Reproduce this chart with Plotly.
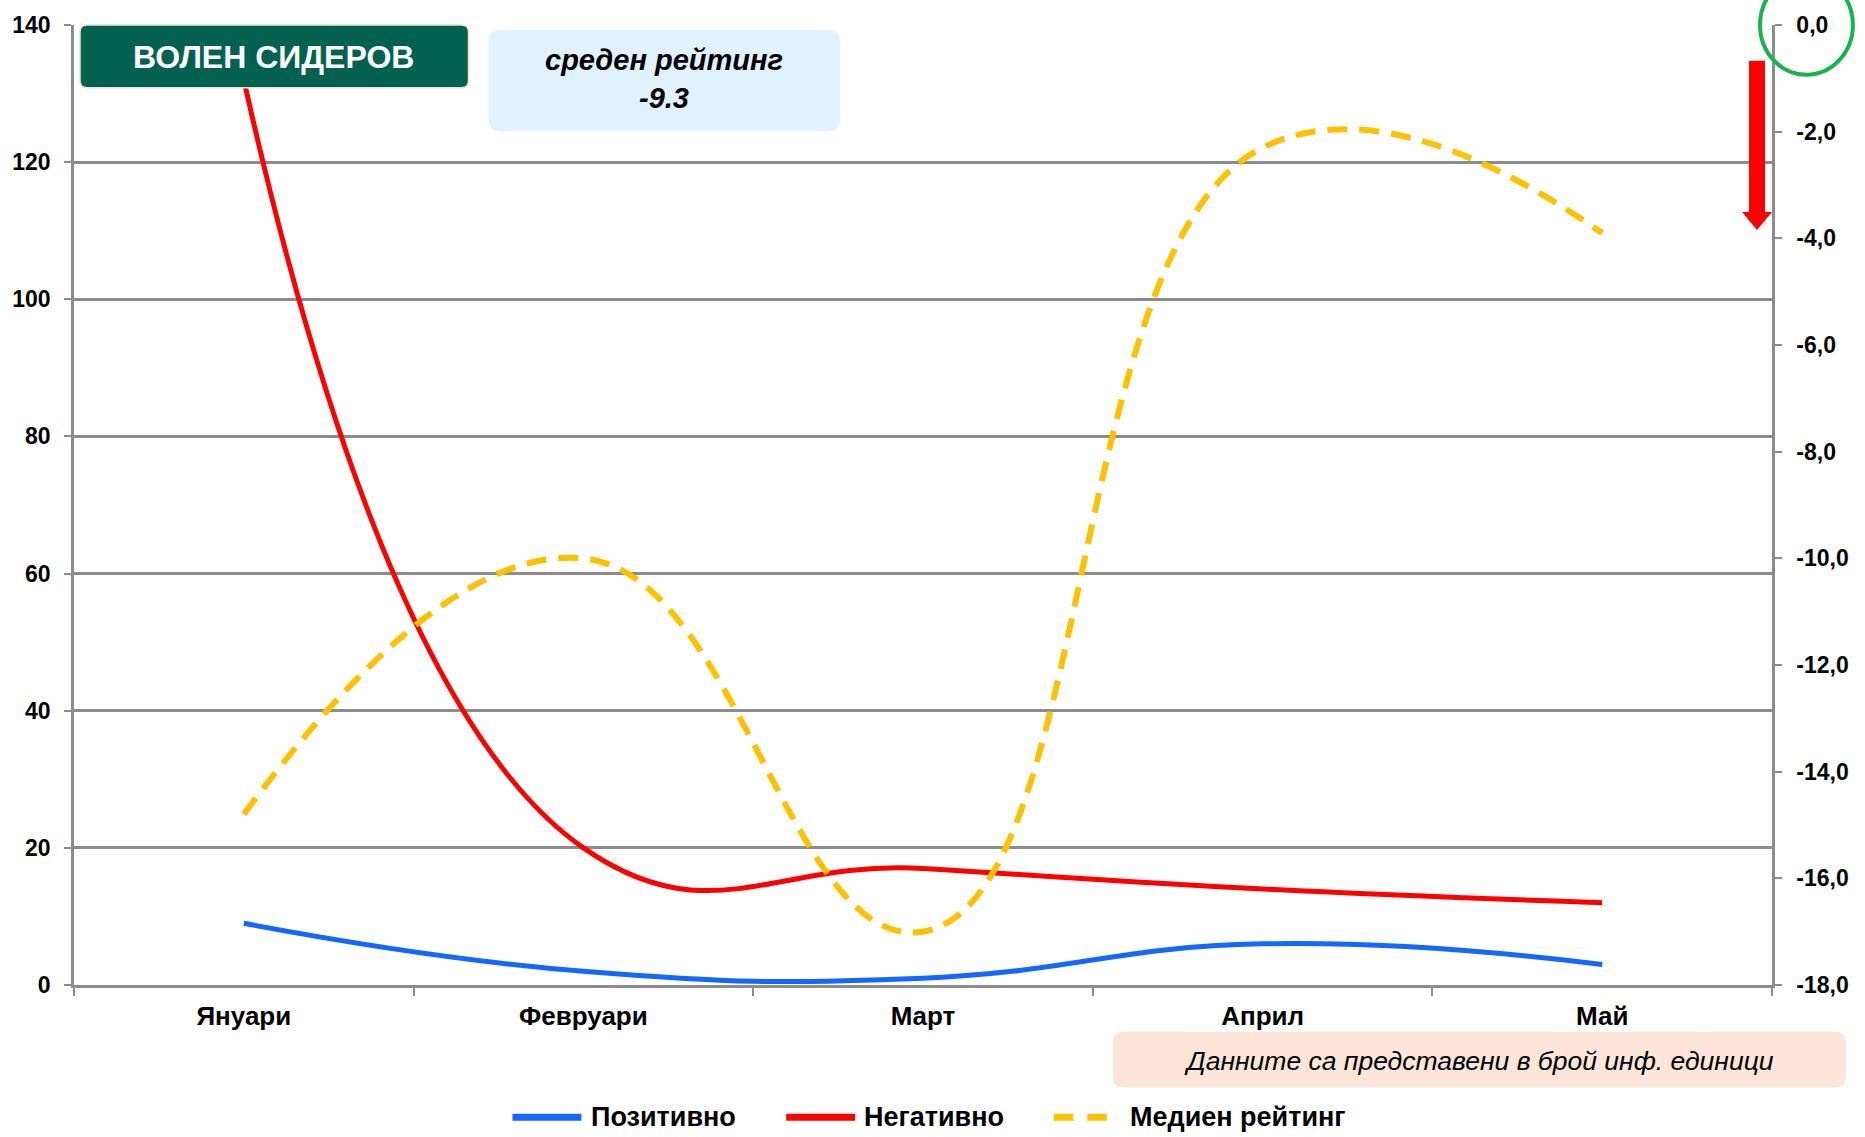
import plotly.graph_objects as go

# ---- data -------------------------------------------------------------
months = ["Януари", "Февруари", "Март", "Април", "Май"]
positive = [9, 2, 1, 6, 3]
negative = [132, 20, 17, 14, 12]
media_rating = [-14.8, -10.0, -17.0, -2.3, -3.9]

series_names = ["Позитивно", "Негативно", "Медиен рейтинг"]
series_colors = ["#1467ff", "#ff0000", "#ffc000"]

left_ticks = [0, 20, 40, 60, 80, 100, 120, 140]
right_ticks = [0, -2, -4, -6, -8, -10, -12, -14, -16, -18]
right_tick_text = ["0,0", "-2,0", "-4,0", "-6,0", "-8,0", "-10,0",
                   "-12,0", "-14,0", "-16,0", "-18,0"]

person = "ВОЛЕН СИДЕРОВ"
avg_label = "среден рейтинг"
avg_value = "-9.3"
note = "Данните са представени в брой инф. единици"

# ---- page geometry (pixels) -------------------------------------------
W, H = 1865, 1137
PL, PR, PT, PB = 72, 1772, 20, 985   # plot area edges
GRID = "#8c8c8c"
FONT = "Arial"
SMOOTH = 1.3


def px(x):
    return (x - PL) / (PR - PL)


def py(y):
    return (PB - y) / (PB - PT)


def rounded_rect(x0, y0, x1, y1, r):
    """SVG path of a rounded rectangle given in page pixels, in paper units."""
    pts = [
        f"M{px(x0 + r)},{py(y0)}",
        f"L{px(x1 - r)},{py(y0)}",
        f"Q{px(x1)},{py(y0)} {px(x1)},{py(y0 + r)}",
        f"L{px(x1)},{py(y1 - r)}",
        f"Q{px(x1)},{py(y1)} {px(x1 - r)},{py(y1)}",
        f"L{px(x0 + r)},{py(y1)}",
        f"Q{px(x0)},{py(y1)} {px(x0)},{py(y1 - r)}",
        f"L{px(x0)},{py(y0 + r)}",
        f"Q{px(x0)},{py(y0)} {px(x0 + r)},{py(y0)}",
        "Z",
    ]
    return " ".join(pts)


fig = go.Figure()

fig.add_trace(go.Scatter(
    x=months, y=positive, name=series_names[0], mode="lines",
    line=dict(color=series_colors[0], width=5, shape="spline", smoothing=SMOOTH),
    showlegend=False,
))
fig.add_trace(go.Scatter(
    x=months, y=negative, name=series_names[1], mode="lines",
    line=dict(color=series_colors[1], width=5, shape="spline", smoothing=SMOOTH),
    showlegend=False,
))
fig.add_trace(go.Scatter(
    x=months, y=media_rating, name=series_names[2], mode="lines", yaxis="y2",
    line=dict(color=series_colors[2], width=6, shape="spline", smoothing=SMOOTH,
              dash="20px,12px"),
    showlegend=False,
))

tick_font = dict(family=FONT, size=23, color="black", weight="bold")

fig.update_layout(
    width=W, height=H, autosize=False,
    margin=dict(l=PL, r=W - PR, t=PT, b=H - PB),
    paper_bgcolor="white", plot_bgcolor="white",
    xaxis=dict(
        type="category", range=[-0.5, 4.5],
        showline=True, linecolor=GRID, linewidth=2.5,
        ticks="outside", tickson="boundaries", ticklen=8,
        tickcolor=GRID, tickwidth=2,
        showgrid=False, zeroline=False,
        tickfont=dict(family=FONT, size=26, color="black", weight="bold"),
        ticklabelstandoff=6,
    ),
    yaxis=dict(
        range=[0, 140], tickvals=left_ticks,
        showline=True, linecolor=GRID, linewidth=2.5,
        ticks="outside", ticklen=7, tickcolor=GRID, tickwidth=2,
        showgrid=True, gridcolor=GRID, gridwidth=2.5,
        zeroline=False, tickfont=tick_font, ticklabelstandoff=9,
    ),
    yaxis2=dict(
        range=[-18, 0], overlaying="y", side="right",
        tickvals=right_ticks, ticktext=right_tick_text,
        showline=True, linecolor=GRID, linewidth=2.5,
        ticks="outside", ticklen=7, tickcolor=GRID, tickwidth=2,
        showgrid=False, zeroline=False, tickfont=tick_font,
        ticklabelstandoff=10,
    ),
)

shapes = []
annotations = []


def label(x, y, text, font, xanchor="center"):
    annotations.append(dict(xref="paper", yref="paper", x=px(x), y=py(y),
                            xanchor=xanchor, yanchor="middle", text=text,
                            showarrow=False, font=font))


# name banner
shapes.append(dict(type="path", xref="paper", yref="paper",
                   path=rounded_rect(78, 20, 467, 83, 7),
                   fillcolor="#03614f", line=dict(color="#e9e4cf", width=1.5),
                   layer="above"))
label(272, 52, person, dict(family=FONT, size=32, color="white", weight="bold"))

# average rating box
shapes.append(dict(type="path", xref="paper", yref="paper",
                   path=rounded_rect(487, 25, 839, 127, 13),
                   fillcolor="#e0f2fd", line=dict(width=0), layer="above"))
label(663, 74, f"<i>{avg_label}<br>{avg_value}</i>",
      dict(family=FONT, size=29, color="black", weight="bold"))

# units note
shapes.append(dict(type="path", xref="paper", yref="paper",
                   path=rounded_rect(1112, 1032, 1846, 1088, 11),
                   fillcolor="#fde5d9", line=dict(width=0), layer="above"))
label(1479, 1061, f"<i>{note}</i>", dict(family=FONT, size=26.5, color="black"))

# downward trend arrow near the right axis
arrow = [(1749, 56), (1765, 56), (1765, 208), (1772, 208), (1757, 226),
         (1742, 208), (1749, 208)]
arrow_path = "M" + " L".join(f"{px(x)},{py(y)}" for x, y in arrow) + " Z"
shapes.append(dict(type="path", xref="paper", yref="paper", path=arrow_path,
                   fillcolor="#ff0000", line=dict(width=0), layer="above"))

# ring around the zero mark of the rating axis
shapes.append(dict(type="circle", xref="paper", yref="paper",
                   x0=px(1760), x1=px(1853), y0=py(-30), y1=py(70),
                   line=dict(color="#14b44e", width=4), layer="above"))

# legend
LY = 1118
legend_items = [
    (511, 580, 588, None),
    (785, 854, 861, None),
    (1053, 1106, 1127, "dash"),
]
for (lx0, lx1, tx, style), name, color in zip(legend_items, series_names, series_colors):
    if style == "dash":
        seg = (lx1 - lx0 - 14) / 2
        for sx in (lx0, lx0 + seg + 14):
            shapes.append(dict(type="line", xref="paper", yref="paper",
                               x0=px(sx), x1=px(sx + seg), y0=py(LY), y1=py(LY),
                               line=dict(color=color, width=7)))
    else:
        shapes.append(dict(type="line", xref="paper", yref="paper",
                           x0=px(lx0), x1=px(lx1), y0=py(LY), y1=py(LY),
                           line=dict(color=color, width=7)))
    label(tx, LY, name, dict(family=FONT, size=27, color="black", weight="bold"),
          xanchor="left")

fig.update_layout(shapes=shapes, annotations=annotations)

fig.write_html("out.html")
